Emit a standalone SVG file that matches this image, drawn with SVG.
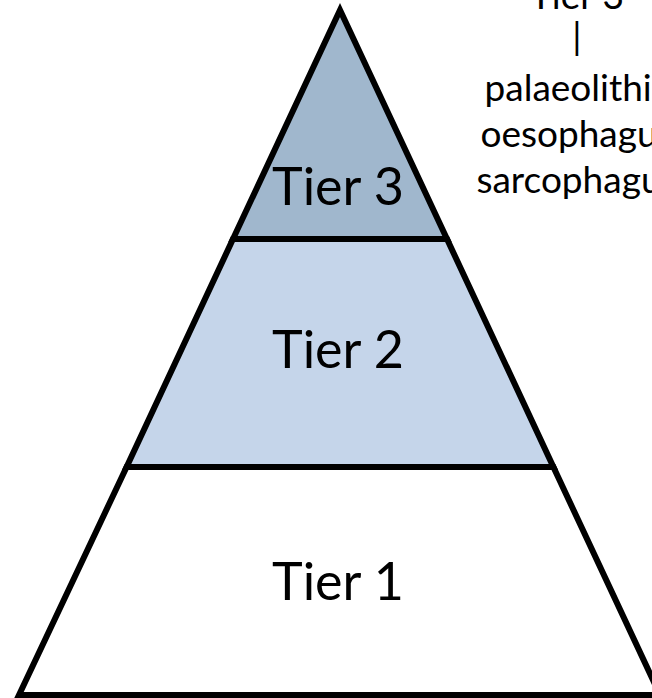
<svg xmlns="http://www.w3.org/2000/svg" width="652" height="698" viewBox="0 0 652 698">
  <style>
    .tier { stroke: #000; stroke-width: 6; stroke-linejoin: miter; stroke-miterlimit: 10; }
    .t1 { fill: #ffffff; }
    .t2 { fill: #c5d5ea; }
    .t3 { fill: #a0b7cd; }
    .label { font-family: "Lato", "Liberation Sans", sans-serif; font-size: 52px; fill: #000; text-anchor: middle; }
    .note { font-family: "Lato", "Liberation Sans", sans-serif; font-size: 37px; fill: #000; text-anchor: middle; }
  </style>
  <rect width="652" height="698" fill="#ffffff"/>

  <!-- bottom tier -->
  <g id="tier1">
    <polygon class="tier t1" points="126.6,467 553.4,467 660,695 19,695"/>
    <text class="label" x="338" y="600">Tier 1</text>
  </g>

  <!-- middle tier -->
  <g id="tier2">
    <polygon class="tier t2" points="233,239 447,239 553.4,467 126.6,467"/>
    <text class="label" x="338" y="368">Tier 2</text>
  </g>

  <!-- top tier -->
  <g id="tier3">
    <polygon class="tier t3" points="340,10 447,239 233,239"/>
    <text class="label" x="338" y="205">Tier 3</text>
  </g>

  <!-- side annotation for the top tier -->
  <g id="tier3-note">
    <text class="note" x="577" y="9">Tier 3</text>
    <text class="note" x="577" y="50">|</text>
    <text class="note" x="577" y="101">palaeolithic</text>
    <text class="note" x="577" y="147">oesophagus</text>
    <text class="note" x="577" y="193">sarcophagus</text>
  </g>

  <g id="connectors"/>
</svg>
